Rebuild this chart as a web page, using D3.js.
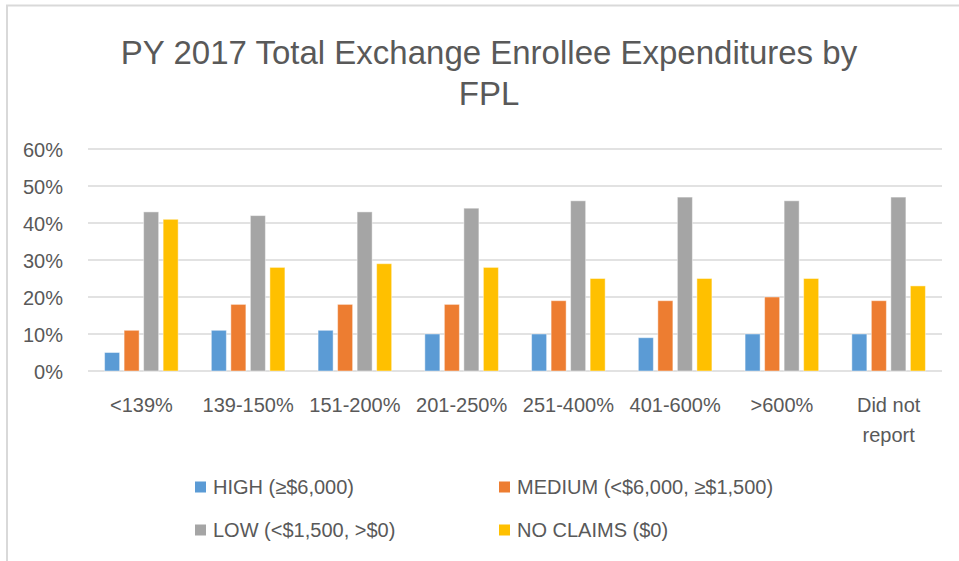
<!DOCTYPE html>
<html>
<head>
<meta charset="utf-8">
<script src="https://cdn.jsdelivr.net/npm/d3@7"></script>
<style>
  body { margin: 0; background: #fff; }
  svg { display: block; font-family: "Liberation Sans", Arial, sans-serif; }
</style>
</head>
<body>
<svg id="chart"></svg>
<script>
const ink = "#595959";

const categories = ["<139%", "139-150%", "151-200%", "201-250%", "251-400%", "401-600%", ">600%", "Did not report"];
const seriesNames = ["HIGH (≥$6,000)", "MEDIUM (<$6,000, ≥$1,500)", "LOW (<$1,500, >$0)", "NO CLAIMS ($0)"];
const high = [5, 11, 11, 10, 10, 9, 10, 10];
const medium = [11, 18, 18, 18, 19, 19, 20, 19];
const low = [43, 42, 43, 44, 46, 47, 46, 47];
const noClaims = [41, 28, 29, 28, 25, 25, 25, 23];
const yTicks = [0, 10, 20, 30, 40, 50, 60];
const colors = ["#5B9BD5", "#ED7D31", "#A5A5A5", "#FFC000"];

const seriesValues = [high, medium, low, noClaims];
const data = categories.map((c, i) => ({
  cat: c,
  vals: seriesNames.map((s, j) => ({ key: s, value: seriesValues[j][i] }))
}));

const W = 959, H = 561;
const plot = { left: 88, right: 942, top: 149, bottom: 371 };

const svg = d3.select("#chart").attr("width", W).attr("height", H);

// frame (cut off on the right and bottom like the screenshot)
svg.append("path")
  .attr("d", `M7,${H + 5} V5.5 H${W + 5}`)
  .attr("fill", "none")
  .attr("stroke", "#d9d9d9")
  .attr("stroke-width", 2);

// Scales
const x = d3.scaleBand()
  .domain(categories)
  .range([plot.left, plot.right]);

const x1 = d3.scaleBand()
  .domain(seriesNames)
  .range([0, x.bandwidth()])
  .paddingInner(0.23)
  .paddingOuter(0.85);

const y = d3.scaleLinear()
  .domain([0, 60])
  .range([plot.bottom, plot.top]);

const color = d3.scaleOrdinal().domain(seriesNames).range(colors);

// Gridlines
svg.append("g")
  .selectAll("line")
  .data(yTicks)
  .join("line")
  .attr("x1", plot.left)
  .attr("x2", plot.right)
  .attr("y1", d => y(d))
  .attr("y2", d => y(d))
  .attr("stroke", "#d9d9d9")
  .attr("stroke-width", 1.5);

// Y axis labels
const yAxis = svg.append("g")
  .attr("transform", `translate(${plot.left - 22},0)`)
  .call(d3.axisLeft(y).tickValues(yTicks).tickFormat(d => d + "%").tickSize(0));
yAxis.select(".domain").remove();
yAxis.selectAll("text")
  .attr("fill", ink)
  .style("font-size", "20px")
  .attr("dy", "0.35em");

// Bars
svg.append("g")
  .selectAll("g")
  .data(data)
  .join("g")
  .attr("transform", d => `translate(${x(d.cat)},0)`)
  .selectAll("rect")
  .data(d => d.vals)
  .join("rect")
  .attr("x", d => x1(d.key))
  .attr("width", x1.bandwidth())
  .attr("y", d => y(d.value))
  .attr("height", d => y(0) - y(d.value))
  .attr("fill", d => color(d.key))
  .attr("stroke", "#fff")
  .attr("stroke-opacity", 0.45)
  .attr("stroke-width", 1);

// X axis labels (wrapped)
const wrapLabels = { "Did not report": ["Did not", "report"] };
const xl = svg.append("g");
categories.forEach(c => {
  const lines = wrapLabels[c] || [c];
  const t = xl.append("text")
    .attr("x", x(c) + x.bandwidth() / 2)
    .attr("y", 412)
    .attr("text-anchor", "middle")
    .attr("fill", ink)
    .style("font-size", "20px");
  lines.forEach((l, i) => {
    t.append("tspan")
      .attr("x", x(c) + x.bandwidth() / 2)
      .attr("dy", i === 0 ? 0 : 30)
      .text(l);
  });
});

// Title
const title = svg.append("text")
  .attr("x", 489)
  .attr("y", 64)
  .attr("text-anchor", "middle")
  .attr("fill", ink)
  .style("font-size", "33px");
title.append("tspan").attr("x", 489).text("PY 2017 Total Exchange Enrollee Expenditures by");
title.append("tspan").attr("x", 489).attr("dy", 41).text("FPL");

// Legend
const legendPos = [[195, 487], [499, 487], [195, 530], [499, 530]];
seriesNames.forEach((s, i) => {
  const g = svg.append("g")
    .attr("transform", `translate(${legendPos[i][0]},${legendPos[i][1]})`);
  g.append("rect")
    .attr("x", 0)
    .attr("y", -5.5)
    .attr("width", 11)
    .attr("height", 11)
    .attr("fill", color(s));
  g.append("text")
    .attr("x", 18)
    .attr("y", 0)
    .attr("dy", "0.35em")
    .attr("fill", ink)
    .style("font-size", "20px")
    .text(s);
});
</script>
</body>
</html>
